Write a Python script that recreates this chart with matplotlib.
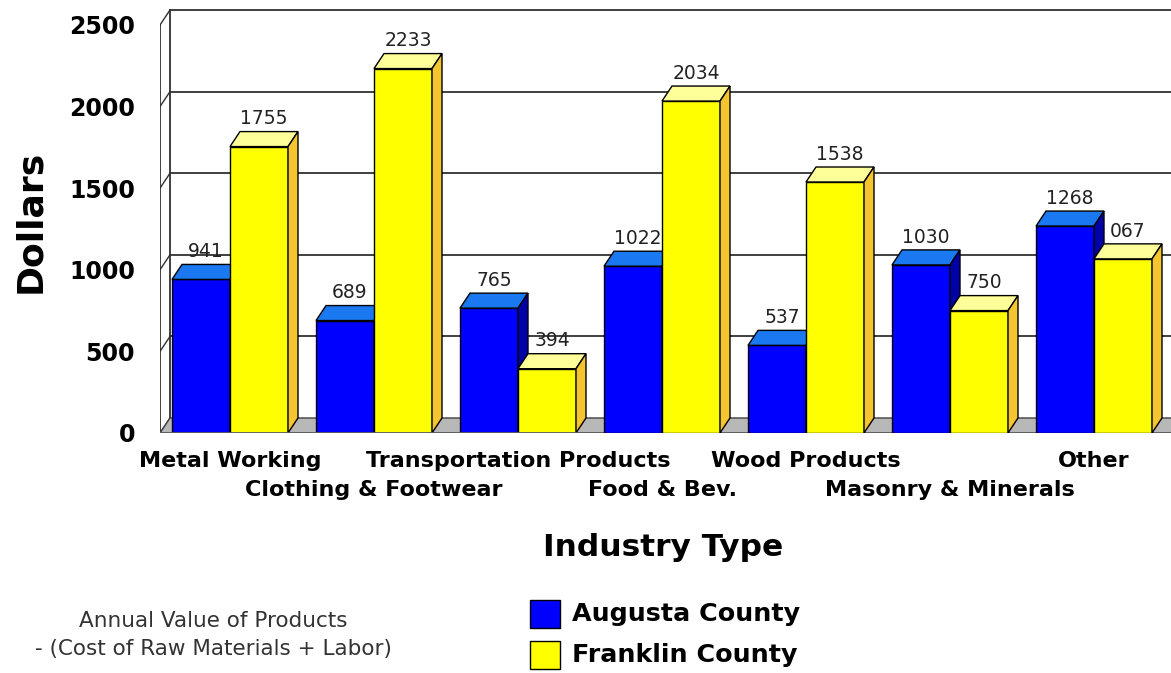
import matplotlib
matplotlib.use("Agg")
import matplotlib.pyplot as plt
from matplotlib.patches import Polygon, Rectangle

# data
industries = ["Metal Working", "Clothing & Footwear", "Transportation Products",
              "Food & Bev.", "Wood Products", "Masonry & Minerals", "Other"]
augusta = [941, 689, 765, 1022, 537, 1030, 1268]
franklin = [1755, 2233, 394, 2034, 1538, 750, 1067]
augusta_labels = ["941", "689", "765", "1022", "537", "1030", "1268"]
franklin_labels = ["1755", "2233", "394", "2034", "1538", "750", "067"]
yticks = [0, 500, 1000, 1500, 2000, 2500]

W, H = 1171, 673
fig = plt.figure(figsize=(W / 100, H / 100), dpi=100)
fig.patch.set_facecolor("white")

# plot area: front floor at y=433px, right side runs off the figure
ppd = 0.1632  # pixels per dollar
ax = fig.add_axes([160 / W, 240 / H, 1011 / W, 433 / H])
ax.set_xlim((160 - 230) / 144, (1171 - 230) / 144)
ax.set_ylim(0, 433 / ppd)
for s in ax.spines.values():
    s.set_visible(False)
ax.set_facecolor("none")

bw = 58 / 144      # bar width
dx = 10 / 144      # depth offset in x
dy = 15 / ppd      # depth offset in dollars
x0, x1 = ax.get_xlim()
xb = x0 + dx
line_c = "#303030"

# floor
ax.add_patch(Polygon([(x0, 0), (x1, 0), (x1 + dx, dy), (x0 + dx, dy)],
                     closed=True, fc="#b8b8b8", ec="#404040", lw=1, zorder=1))

# back wall grid + left wall
for v in yticks:
    if v > 0:
        ax.plot([xb, x1], [v + dy, v + dy], color=line_c, lw=1.3, zorder=0.5)
    ax.plot([x0, xb], [v, v + dy], color=line_c, lw=1, zorder=0.5)
ax.plot([xb, xb], [dy, 2500 + dy], color=line_c, lw=1.3, zorder=0.5)
ax.plot([x0, x0], [0, 2500], color=line_c, lw=1.3, zorder=0.5)
ax.plot([x0, x1], [0, 0], color="#606060", lw=1.3, zorder=5)


def bar3d(xl, v, front, top, side, z):
    xr = xl + bw
    ax.bar(xl, v, width=bw, align="edge", color=front, edgecolor="black", lw=1, zorder=z)
    ax.add_patch(Polygon([(xl, v), (xl + dx, v + dy), (xr + dx, v + dy), (xr, v)],
                         closed=True, fc=top, ec="black", lw=1, zorder=z))
    ax.add_patch(Polygon([(xr, 0), (xr + dx, dy), (xr + dx, v + dy), (xr, v)],
                         closed=True, fc=side, ec="black", lw=1, zorder=z))


for i in range(len(industries)):
    z = 2 + i
    bar3d(i - bw, augusta[i], "#0000ff", "#1a78f0", "#0000a8", z)
    bar3d(i, franklin[i], "#ffff00", "#ffff99", "#f5c530", z + 0.5)
    ax.text(i - bw / 2 + dx / 2, augusta[i] + dy + 45, augusta_labels[i], ha="center",
            va="baseline", fontsize=13.5, color="#222222", zorder=20)
    ax.text(i + bw / 2 + dx / 2, franklin[i] + dy + 45, franklin_labels[i], ha="center",
            va="baseline", fontsize=13.5, color="#222222", zorder=20)

# ticks: even categories on the first row, odd ones on the second
ax.set_yticks(yticks)
ax.set_yticklabels([str(t) for t in yticks], fontsize=17, fontweight="bold")
even = list(range(0, len(industries), 2))
odd = list(range(1, len(industries), 2))
ax.set_xticks(even)
ax.set_xticklabels([industries[i] for i in even], fontsize=16, fontweight="bold")
ax.set_xticks(odd, minor=True)
ax.set_xticklabels([industries[i] for i in odd], minor=True, fontsize=16, fontweight="bold")
ax.tick_params(axis="y", length=0, pad=18)
ax.tick_params(axis="x", which="major", length=0, pad=13)
ax.tick_params(axis="x", which="minor", length=0, pad=34)

fig.text(30 / W, 1 - 221 / H, "Dollars", rotation=90, fontsize=26, fontweight="bold",
         ha="center", va="center")
fig.text(663 / W, 1 - 548 / H, "Industry Type", fontsize=22.5, fontweight="bold",
         ha="center", va="center")
fig.text(213 / W, 1 - 635 / H, "Annual Value of Products\n- (Cost of Raw Materials + Labor)",
         fontsize=15.5, color="#333333", ha="center", va="center", linespacing=1.45)

# legend
for k, (name, col) in enumerate([("Augusta County", "#0000ff"), ("Franklin County", "#ffff00")]):
    yc = 614 + 41 * k
    fig.add_artist(Rectangle((530 / W, 1 - (yc + 14) / H), 30 / W, 28 / H,
                             fc=col, ec="black", lw=1, transform=fig.transFigure))
    fig.text(572 / W, 1 - yc / H, name, fontsize=18.3, fontweight="bold",
             ha="left", va="center")

fig.savefig("out.png", dpi=100)
